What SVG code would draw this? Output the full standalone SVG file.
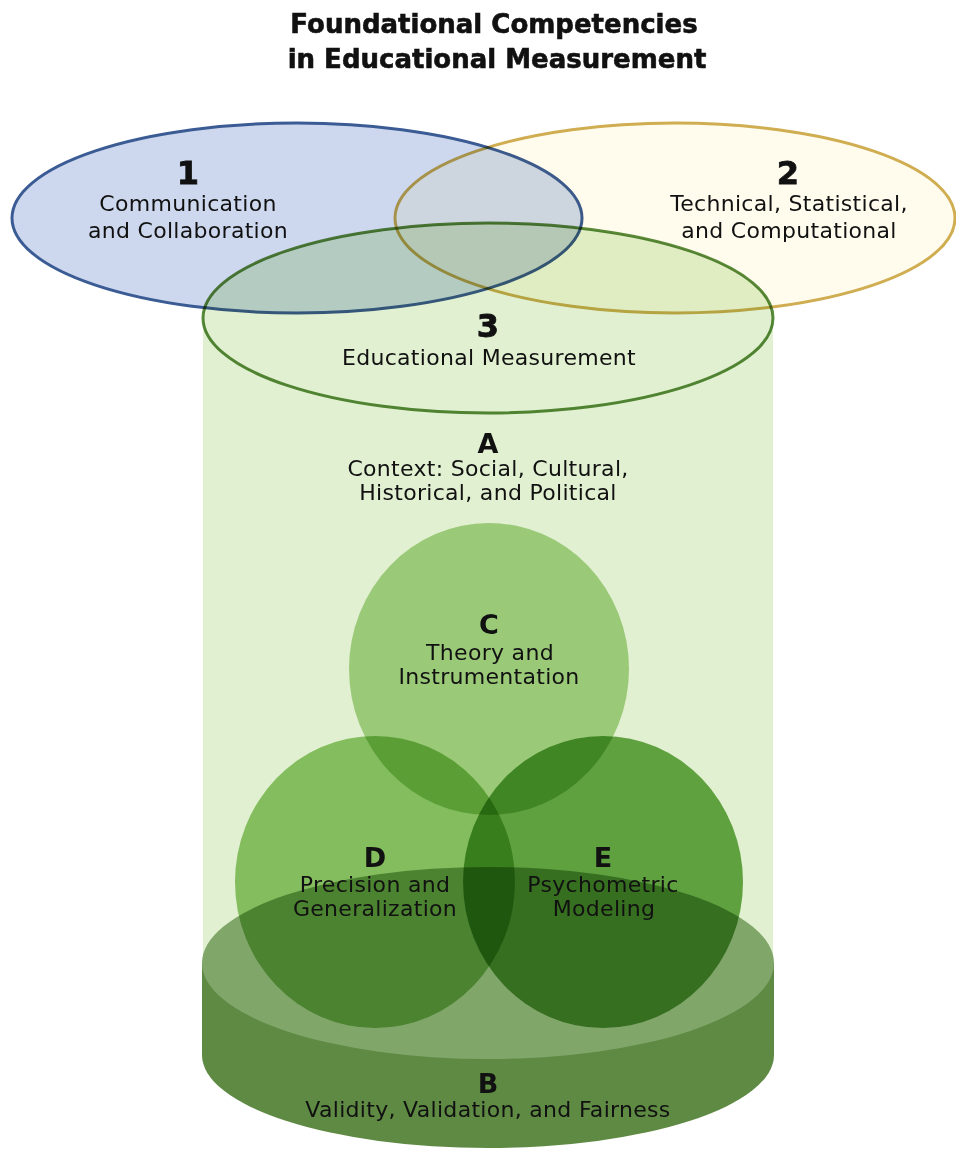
<svg xmlns="http://www.w3.org/2000/svg" width="956" height="1150" viewBox="0 0 956 1150">
  <style>
    .mul { mix-blend-mode: multiply; }
    text { font-family: "DejaVu Sans", "Liberation Sans", sans-serif; fill: #111; text-anchor: middle; }
    .title { font-weight: bold; font-size: 26px; stroke: #111; stroke-width: 0.6px; }
    .num { font-weight: bold; font-size: 32px; stroke: #111; stroke-width: 0.8px; }
    .let { font-weight: bold; font-size: 27px; }
    .lbl { font-size: 22px; letter-spacing: 0.3px; }
  </style>

  <rect width="956" height="1150" fill="#ffffff"/>

  <!-- Title -->
  <g id="title">
    <text class="title" x="494" y="33">Foundational Competencies</text>
    <text class="title" x="497" y="68">in Educational Measurement</text>
  </g>

  <!-- 1: Communication and Collaboration -->
  <g id="node-1" class="mul">
    <ellipse cx="297" cy="218" rx="285" ry="95" fill="#cdd8ee" stroke="#3b5b94" stroke-width="3"/>
  </g>

  <!-- 2: Technical, Statistical, and Computational -->
  <g id="node-2" class="mul">
    <ellipse cx="675" cy="218" rx="280" ry="95" fill="#fffcee" stroke="#cfad50" stroke-width="3"/>
  </g>

  <!-- 3 / A: Educational Measurement cylinder -->
  <g id="node-3">
    <path class="mul" d="M203,318 A285,95 0 0 1 773,318 L773,963 L203,963 Z" fill="#e0f0d0"/>
    <ellipse class="mul" cx="488" cy="318" rx="285" ry="95" fill="none" stroke="#5b8b3c" stroke-width="3"/>
  </g>

  <!-- B: base disc -->
  <g id="node-B">
    <path d="M202,963 L202,1055 A286,93 0 0 0 774,1055 L774,963 Z" fill="#5e8a43"/>
    <ellipse cx="488" cy="963" rx="286" ry="96" fill="#80a66a"/>
  </g>

  <!-- C, D, E circles -->
  <g id="node-C">
    <ellipse class="mul" cx="489" cy="669" rx="140" ry="146" fill="#b0d693"/>
  </g>
  <g id="node-D">
    <ellipse class="mul" cx="375" cy="882" rx="140" ry="146" fill="#96c973"/>
  </g>
  <g id="node-E">
    <ellipse class="mul" cx="603" cy="882" rx="140" ry="146" fill="#6caa4d"/>
  </g>

  <!-- Labels -->
  <g id="labels">
    <text class="num" x="188" y="184">1</text>
    <text class="lbl" x="188" y="211">Communication</text>
    <text class="lbl" x="188" y="238">and Collaboration</text>

    <text class="num" x="788" y="184">2</text>
    <text class="lbl" x="789" y="211">Technical, Statistical,</text>
    <text class="lbl" x="789" y="238">and Computational</text>

    <text class="num" x="488" y="337">3</text>
    <text class="lbl" x="489" y="365">Educational Measurement</text>

    <text class="let" x="488" y="453">A</text>
    <text class="lbl" x="488" y="476">Context: Social, Cultural,</text>
    <text class="lbl" x="488" y="500">Historical, and Political</text>

    <text class="let" x="489" y="634">C</text>
    <text class="lbl" x="490" y="660">Theory and</text>
    <text class="lbl" x="489" y="684">Instrumentation</text>

    <text class="let" x="375" y="867">D</text>
    <text class="lbl" x="375" y="892">Precision and</text>
    <text class="lbl" x="375" y="916">Generalization</text>

    <text class="let" x="603" y="867">E</text>
    <text class="lbl" x="603" y="892">Psychometric</text>
    <text class="lbl" x="604" y="916">Modeling</text>

    <text class="let" x="488" y="1093">B</text>
    <text class="lbl" x="488" y="1117">Validity, Validation, and Fairness</text>
  </g>
</svg>
